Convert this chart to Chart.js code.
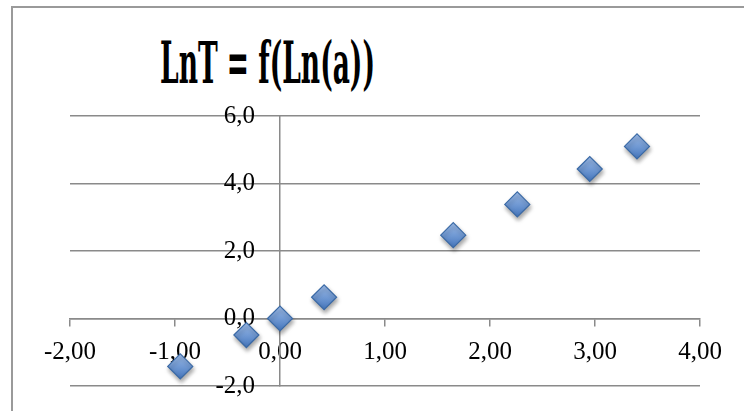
<!DOCTYPE html>
<html>
<head>
<meta charset="utf-8">
<script src="https://cdn.jsdelivr.net/npm/chart.js@4"></script>
<style>
    html, body { margin: 0; padding: 0; background: #fff; overflow: hidden; }
    #wrap { position: relative; width: 744px; height: 411px; overflow: hidden; }
    .edge { position: absolute; background: #9a9a9a; }
    #edgeTop { left: 11px; top: 6px; width: 733px; height: 2px; }
    #edgeLeft { left: 11px; top: 6px; width: 2px; height: 405px; }
    #title {
        position: absolute; left: 160px; top: 34px;
        font: bold 57px "DejaVu Serif", serif; font-stretch: condensed; line-height: 1;
        transform-origin: left top;
        white-space: nowrap; color: #000;
    }
    canvas { position: absolute; left: 0; top: 0; }
</style>
</head>
<body>
<div id="wrap">
    <div class="edge" id="edgeTop"></div>
    <div class="edge" id="edgeLeft"></div>
    <div id="title">LnT = f(Ln(a))</div>
    <canvas id="chart" width="744" height="411"></canvas>
</div>
<script>
    // data
    var lnA = [-0.95, -0.32, 0.00, 0.42, 1.65, 2.26, 2.95, 3.40];
    var lnT = [-1.42, -0.49, 0.00, 0.63, 2.47, 3.38, 4.43, 5.10];

    var xTickValues = [-2, -1, 0, 1, 2, 3, 4];
    var xTickLabels = ['-2,00', '-1,00', '0,00', '1,00', '2,00', '3,00', '4,00'];
    var yTickValues = [-2, 0, 2, 4, 6];
    var yTickLabels = ['-2,0', '0,0', '2,0', '4,0', '6,0'];

    var gridColor = '#8a8a8a';
    var tickFont = { family: '"Liberation Serif", serif', size: 25 };

    // squeeze the title to the width it has in the picture
    var titleEl = document.getElementById('title');
    titleEl.style.transform = 'scaleX(' + (215 / titleEl.offsetWidth) + ')';

    var points = lnA.map(function (x, i) { return { x: x, y: lnT[i] }; });

    // soft shadow under the markers
    var shadowPlugin = {
        id: 'markerShadow',
        beforeDatasetsDraw: function (chart) {
            var ctx = chart.ctx;
            ctx.save();
            ctx.shadowColor = 'rgba(0,0,0,0.35)';
            ctx.shadowBlur = 4;
            ctx.shadowOffsetX = 1;
            ctx.shadowOffsetY = 3;
        },
        afterDatasetsDraw: function (chart) {
            chart.ctx.restore();
        }
    };

    function markerFill(context) {
        var chart = context.chart;
        if (!chart.scales || !chart.scales.y || !context.raw) return '#5b8bd0';
        var py = chart.scales.y.getPixelForValue(context.raw.y);
        if (!isFinite(py)) return '#5b8bd0';
        var g = chart.ctx.createLinearGradient(0, py - 12, 0, py + 12);
        g.addColorStop(0, '#9dbdeb');
        g.addColorStop(1, '#4677bd');
        return g;
    }

    new Chart(document.getElementById('chart'), {
        type: 'scatter',
        data: {
            datasets: [{
                data: points,
                pointStyle: 'rectRot',
                pointRadius: 12.5,
                pointHoverRadius: 12.5,
                backgroundColor: markerFill,
                borderColor: '#3b6aa6',
                borderWidth: 1.2
            }]
        },
        options: {
            responsive: false,
            animation: false,
            layout: { padding: { left: 70, right: 44, top: 116, bottom: 25 } },
            plugins: {
                legend: { display: false },
                title: { display: false },
                tooltip: { enabled: false }
            },
            scales: {
                x: {
                    type: 'linear',
                    position: { y: 0 },
                    min: -2,
                    max: 4,
                    afterFit: function (scale) { scale.height = 0; },
                    afterBuildTicks: function (scale) {
                        scale.ticks = xTickValues.map(function (v) { return { value: v }; });
                    },
                    ticks: {
                        color: '#000',
                        font: tickFont,
                        padding: 12,
                        maxRotation: 0,
                        callback: function (v) { return xTickLabels[xTickValues.indexOf(v)]; }
                    },
                    grid: {
                        drawOnChartArea: false,
                        drawTicks: true,
                        tickLength: 7,
                        color: gridColor,
                        lineWidth: 1.5
                    },
                    border: { display: true, color: gridColor, width: 1.5 }
                },
                y: {
                    type: 'linear',
                    position: { x: 0 },
                    min: -2,
                    max: 6,
                    afterFit: function (scale) { scale.width = 0; },
                    afterBuildTicks: function (scale) {
                        scale.ticks = yTickValues.map(function (v) { return { value: v }; });
                    },
                    ticks: {
                        color: '#000',
                        font: tickFont,
                        padding: 0,
                        // em space keeps the label clear of the axis line
                        callback: function (v) { return yTickLabels[yTickValues.indexOf(v)] + '\u2003'; }
                    },
                    grid: {
                        drawTicks: false,
                        color: gridColor,
                        lineWidth: 1.5
                    },
                    border: { display: true, color: gridColor, width: 1.5 }
                }
            }
        },
        plugins: [shadowPlugin]
    });
</script>
</body>
</html>
